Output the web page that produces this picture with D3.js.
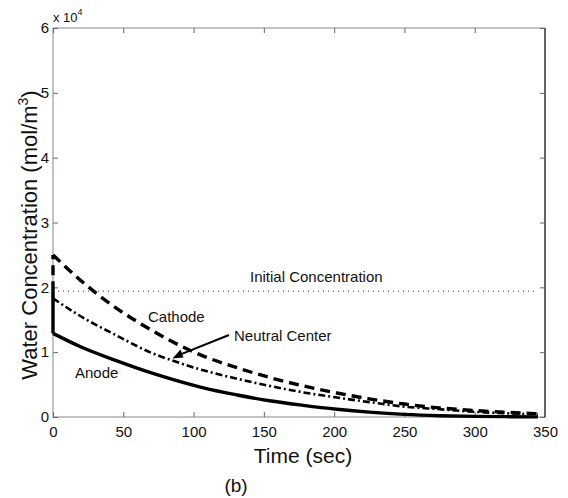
<!DOCTYPE html>
<html>
<head>
<meta charset="utf-8">
<script src="https://cdn.jsdelivr.net/npm/d3@7"></script>
<style>
body { margin: 0; background: #fff; }
text { font-family: "Liberation Sans", Arial, sans-serif; fill: #111; }
</style>
</head>
<body>
<svg id="svg"></svg>
<script>
var width = 568, height = 498;

// data (mol/m^3)
var times = [0, 20, 45, 70, 85, 107, 131, 154, 178, 202, 225, 250, 275, 300, 325, 345];
var initialConc = 19400;
var anode = [12900, 10800, 8700, 6800, 5800, 4500, 3400, 2500, 1800, 1200, 750, 400, 200, 100, 50, 20];
var neutral = [18300, 15500, 12600, 9900, 8700, 7200, 5900, 4800, 3800, 3000, 2300, 1600, 1200, 800, 550, 400];
var cathode = [25000, 21000, 16800, 13400, 11600, 9400, 7600, 6100, 4800, 3700, 2800, 2000, 1400, 1000, 700, 500];
var xTicks = [0, 50, 100, 150, 200, 250, 300, 350];
var yTicks = [0, 10000, 20000, 30000, 40000, 50000, 60000];

var svg = d3.select("#svg")
	.attr("width", width)
	.attr("height", height);

var x = d3.scaleLinear().domain([0, 350]).range([53, 545]);
var y = d3.scaleLinear().domain([0, 60000]).range([417, 28]);

// frame
svg.append("rect")
	.attr("x", x(0)).attr("y", y(60000))
	.attr("width", x(350) - x(0)).attr("height", y(0) - y(60000))
	.style("fill", "none").style("stroke", "#888").style("stroke-width", 1);
svg.append("line")
	.attr("x1", x(350)).attr("x2", x(350)).attr("y1", y(60000)).attr("y2", y(0))
	.style("stroke", "#222").style("stroke-width", 1.2);

// axes with inward ticks
var xAxis = d3.axisBottom(x).tickValues(xTicks).tickSizeInner(-5).tickSizeOuter(0).tickPadding(9);
var yAxis = d3.axisLeft(y).tickValues(yTicks).tickSizeInner(-5).tickSizeOuter(0).tickPadding(4)
	.tickFormat(function(d) { return d / 10000; });

svg.append("g")
	.attr("transform", "translate(0," + y(0) + ")")
	.call(xAxis);
svg.append("g")
	.attr("transform", "translate(" + x(0) + ",0)")
	.call(yAxis);
svg.append("g")
	.attr("transform", "translate(" + x(350) + ",0)")
	.call(d3.axisRight(y).tickValues(yTicks).tickSizeInner(-5).tickSizeOuter(0).tickFormat(""));
svg.append("g")
	.attr("transform", "translate(0," + y(60000) + ")")
	.call(d3.axisTop(x).tickValues(xTicks).tickSizeInner(-5).tickSizeOuter(0).tickFormat(""));
svg.selectAll(".domain").remove();
svg.selectAll(".tick line").style("stroke", "#666");
svg.selectAll(".tick text")
	.style("font-family", "'Liberation Sans', Arial, sans-serif")
	.style("font-size", "15px")
	.style("fill", "#111");

// x 10^4 multiplier
var mult = svg.append("text")
	.attr("x", 53).attr("y", 22)
	.style("font-size", "13px");
mult.append("tspan").text("x 10");
mult.append("tspan").attr("dy", -7).style("font-size", "9px").text("4");

// curves
var line = d3.line()
	.x(function(d) { return x(d[0]); })
	.y(function(d) { return y(d[1]); })
	.curve(d3.curveMonotoneX);

function series(vals) {
	return times.map(function(t, i) { return [t, vals[i]]; });
}

function drawSeries(vals, dash, w) {
	svg.append("path")
		.attr("d", d3.line()([[x(0), y(initialConc)], [x(0), y(vals[0])]]))
		.style("fill", "none").style("stroke", "#000")
		.style("stroke-width", w)
		.style("stroke-dasharray", dash);
	svg.append("path")
		.datum(series(vals))
		.attr("d", line)
		.style("fill", "none").style("stroke", "#000")
		.style("stroke-width", w)
		.style("stroke-dasharray", dash);
}

// initial concentration dotted line
svg.append("path")
	.datum([[0, initialConc], [345, initialConc]])
	.attr("d", line)
	.style("fill", "none").style("stroke", "#777")
	.style("stroke-width", 1.5)
	.style("stroke-dasharray", "1,4");

drawSeries(cathode, "10,6", 3.4);
drawSeries(neutral, "7,3,2,3", 2.6);
drawSeries(anode, null, 3.4);

// annotations
svg.append("text").attr("x", 250).attr("y", 282).style("font-size", "15px").text("Initial Concentration");
svg.append("text").attr("x", 148).attr("y", 322).style("font-size", "15px").text("Cathode");
svg.append("text").attr("x", 234).attr("y", 341).style("font-size", "15px").text("Neutral Center");
svg.append("text").attr("x", 75).attr("y", 378).style("font-size", "15px").text("Anode");

// arrow to the neutral center curve
var tipX = x(times[4]), tipY = y(neutral[4]) - 2;
svg.append("line")
	.attr("x1", 229).attr("y1", 335).attr("x2", tipX + 5).attr("y2", tipY - 3)
	.style("stroke", "#000").style("stroke-width", 2);
svg.append("path")
	.attr("d", "M" + tipX + "," + tipY + " L" + (tipX + 8) + "," + (tipY - 9) + " L" + (tipX + 11) + "," + (tipY - 1) + " Z")
	.style("fill", "#000");

// axis titles
svg.append("text")
	.attr("x", (x(0) + x(350)) / 2 + 4).attr("y", 463)
	.style("text-anchor", "middle")
	.style("font-size", "21px")
	.text("Time (sec)");

var yt = svg.append("text")
	.attr("transform", "translate(37,235) rotate(-90)")
	.style("text-anchor", "middle")
	.style("font-size", "22px");
yt.append("tspan").text("Water Concentration (mol/m");
yt.append("tspan").attr("dy", -9).style("font-size", "14px").text("3");
yt.append("tspan").attr("dy", 9).text(")");

svg.append("text")
	.attr("x", 236).attr("y", 492)
	.style("text-anchor", "middle")
	.style("font-size", "19px")
	.text("(b)");
</script>
</body>
</html>
